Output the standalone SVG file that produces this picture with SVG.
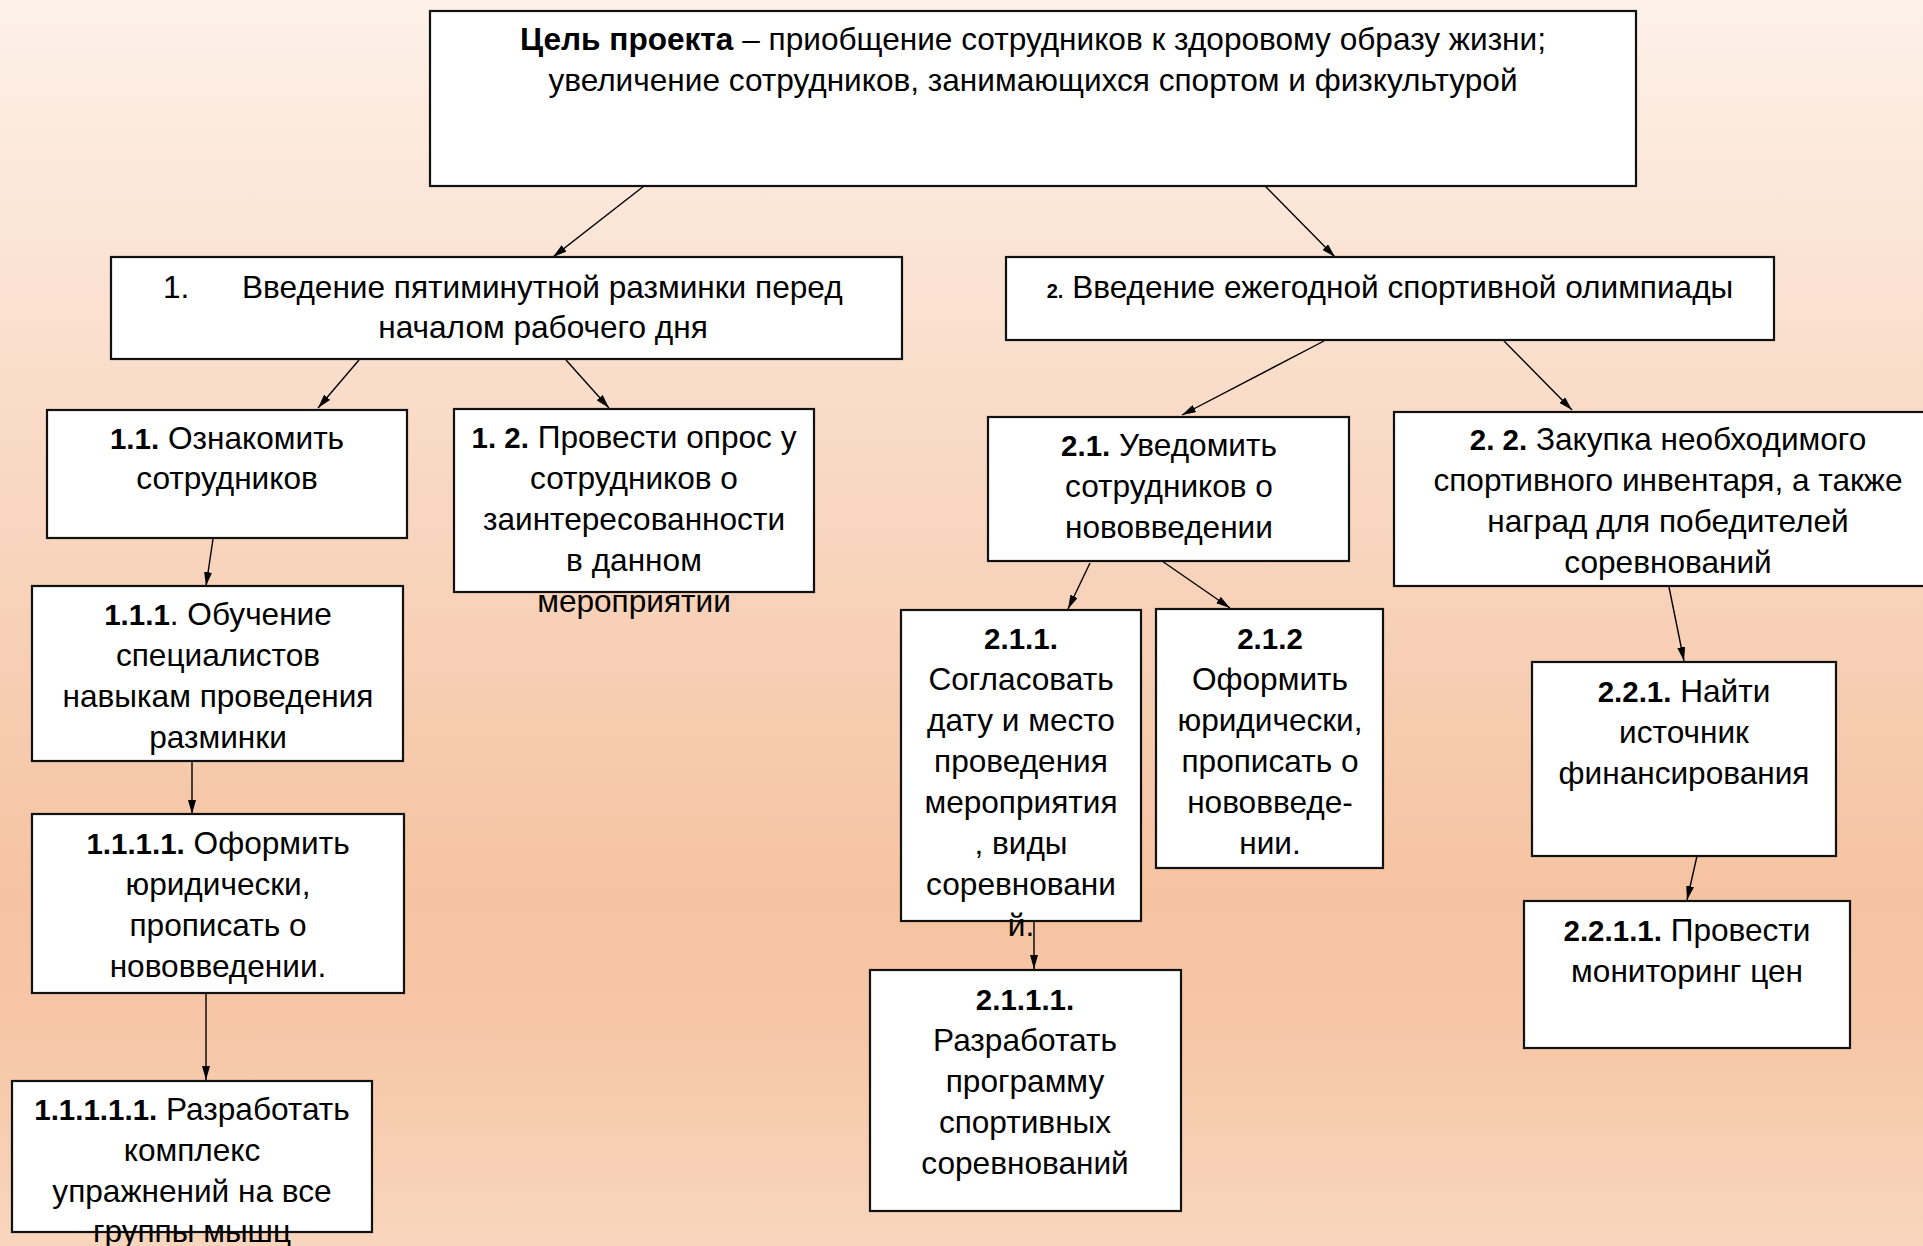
<svg xmlns="http://www.w3.org/2000/svg" width="1923" height="1246" viewBox="0 0 1923 1246">
<defs>
<linearGradient id="bg" x1="0" y1="0" x2="0" y2="1">
<stop offset="0" stop-color="#fdf1e8"/>
<stop offset="0.35" stop-color="#f9dac6"/>
<stop offset="0.72" stop-color="#f5c3a1"/>
<stop offset="0.82" stop-color="#f6c6a6"/>
<stop offset="1" stop-color="#f8d6bd"/>
</linearGradient>
<marker id="ah" viewBox="0 0 14 8" refX="14" refY="4" markerWidth="14" markerHeight="8" markerUnits="userSpaceOnUse" orient="auto">
<path d="M0,0 L14,4 L0,8 Z" fill="#000"/>
</marker>
</defs>
<style>
.box{fill:#fff;stroke:#111;stroke-width:2.2}
.t{font-family:"Liberation Sans",Arial,sans-serif;font-size:31.6px;fill:#000;text-anchor:middle}
.s{text-anchor:start}
.b{font-weight:bold}
.n{font-weight:bold;font-size:29.5px}
.c{stroke:#000;stroke-width:1.4;fill:none;marker-end:url(#ah)}
</style>
<rect x="0" y="0" width="1923" height="1246" fill="url(#bg)"/>

<g id="connectors">
<line class="c" x1="644" y1="186" x2="553" y2="257"/>
<line class="c" x1="1265" y1="186" x2="1335" y2="257"/>
<line class="c" x1="359" y1="360" x2="318" y2="408"/>
<line class="c" x1="566" y1="360" x2="609" y2="408"/>
<line class="c" x1="213" y1="539" x2="206" y2="586"/>
<line class="c" x1="192" y1="761" x2="192" y2="814"/>
<line class="c" x1="206" y1="993" x2="206" y2="1080"/>
<line class="c" x1="1324" y1="341" x2="1182" y2="415"/>
<line class="c" x1="1504" y1="341" x2="1572" y2="410"/>
<line class="c" x1="1090" y1="563" x2="1068" y2="609"/>
<line class="c" x1="1162" y1="561" x2="1230" y2="608"/>
<line class="c" x1="1034" y1="921" x2="1034" y2="969"/>
<line class="c" x1="1669" y1="587" x2="1684" y2="661"/>
<line class="c" x1="1697" y1="856" x2="1687" y2="900"/>
</g>

<g id="goal">
<rect class="box" x="430" y="11" width="1206" height="175"/>
<text class="t" x="1033" y="50"><tspan class="b">Цель проекта</tspan> – приобщение сотрудников к здоровому образу жизни;</text>
<text class="t" x="1033" y="91">увеличение сотрудников, занимающихся спортом и физкультурой</text>
</g>

<g id="n1">
<rect class="box" x="111" y="257" width="791" height="102"/>
<text class="t s" x="163" y="298">1.</text>
<text class="t s" x="242" y="298">Введение пятиминутной разминки перед</text>
<text class="t" x="543" y="338">началом рабочего дня</text>
</g>

<g id="n2">
<rect class="box" x="1006" y="257" width="768" height="83"/>
<text class="t" x="1390" y="298"><tspan class="b" font-size="20">2.</tspan> Введение ежегодной спортивной олимпиады</text>
</g>

<g id="n1_1">
<rect class="box" x="47" y="410" width="360" height="128"/>
<text class="t" x="227" y="449"><tspan class="n">1.1.</tspan> Ознакомить</text>
<text class="t" x="227" y="489">сотрудников</text>
</g>

<g id="n1_2">
<rect class="box" x="454" y="409" width="360" height="183"/>
<text class="t" x="634" y="448"><tspan class="n">1. 2.</tspan> Провести опрос у</text>
<text class="t" x="634" y="489">сотрудников о</text>
<text class="t" x="634" y="530">заинтересованности</text>
<text class="t" x="634" y="571">в данном</text>
<text class="t" x="634" y="612">мероприятии</text>
</g>

<g id="n1_1_1">
<rect class="box" x="32" y="586" width="371" height="175"/>
<text class="t" x="218" y="625"><tspan class="n">1.1.1</tspan>. Обучение</text>
<text class="t" x="218" y="666">специалистов</text>
<text class="t" x="218" y="707">навыкам проведения</text>
<text class="t" x="218" y="748">разминки</text>
</g>

<g id="n1_1_1_1">
<rect class="box" x="32" y="814" width="372" height="179"/>
<text class="t" x="218" y="854"><tspan class="n">1.1.1.1.</tspan> Оформить</text>
<text class="t" x="218" y="895">юридически,</text>
<text class="t" x="218" y="936">прописать о</text>
<text class="t" x="218" y="977">нововведении.</text>
</g>

<g id="n1_1_1_1_1">
<rect class="box" x="12" y="1081" width="360" height="151"/>
<text class="t" x="192" y="1120"><tspan class="n">1.1.1.1.1.</tspan> Разработать</text>
<text class="t" x="192" y="1161">комплекс</text>
<text class="t" x="192" y="1202">упражнений на все</text>
<text class="t" x="192" y="1242">группы мышц</text>
</g>

<g id="n2_1">
<rect class="box" x="988" y="417" width="361" height="144"/>
<text class="t" x="1169" y="456"><tspan class="n">2.1.</tspan> Уведомить</text>
<text class="t" x="1169" y="497">сотрудников о</text>
<text class="t" x="1169" y="538">нововведении</text>
</g>

<g id="n2_2">
<rect class="box" x="1394" y="412" width="552" height="174"/>
<text class="t" x="1668" y="450"><tspan class="n">2. 2.</tspan> Закупка необходимого</text>
<text class="t" x="1668" y="491">спортивного инвентаря, а также</text>
<text class="t" x="1668" y="532">наград для победителей</text>
<text class="t" x="1668" y="573">соревнований</text>
</g>

<g id="n2_1_1">
<rect class="box" x="901" y="610" width="240" height="311"/>
<text class="t n" x="1021" y="649">2.1.1.</text>
<text class="t" x="1021" y="690">Согласовать</text>
<text class="t" x="1021" y="731">дату и место</text>
<text class="t" x="1021" y="772">проведения</text>
<text class="t" x="1021" y="813">мероприятия</text>
<text class="t" x="1021" y="854">, виды</text>
<text class="t" x="1021" y="895">соревновани</text>
<text class="t" x="1021" y="936">й.</text>
</g>

<g id="n2_1_2">
<rect class="box" x="1156" y="609" width="227" height="259"/>
<text class="t n" x="1270" y="649">2.1.2</text>
<text class="t" x="1270" y="690">Оформить</text>
<text class="t" x="1270" y="731">юридически,</text>
<text class="t" x="1270" y="772">прописать о</text>
<text class="t" x="1270" y="813">нововведе-</text>
<text class="t" x="1270" y="854">нии.</text>
</g>

<g id="n2_2_1">
<rect class="box" x="1532" y="662" width="304" height="194"/>
<text class="t" x="1684" y="702"><tspan class="n">2.2.1.</tspan> Найти</text>
<text class="t" x="1684" y="743">источник</text>
<text class="t" x="1684" y="784">финансирования</text>
</g>

<g id="n2_1_1_1">
<rect class="box" x="870" y="970" width="311" height="241"/>
<text class="t n" x="1025" y="1010">2.1.1.1.</text>
<text class="t" x="1025" y="1051">Разработать</text>
<text class="t" x="1025" y="1092">программу</text>
<text class="t" x="1025" y="1133">спортивных</text>
<text class="t" x="1025" y="1174">соревнований</text>
</g>

<g id="n2_2_1_1">
<rect class="box" x="1524" y="901" width="326" height="147"/>
<text class="t" x="1687" y="941"><tspan class="n">2.2.1.1.</tspan> Провести</text>
<text class="t" x="1687" y="982">мониторинг цен</text>
</g>
</svg>
